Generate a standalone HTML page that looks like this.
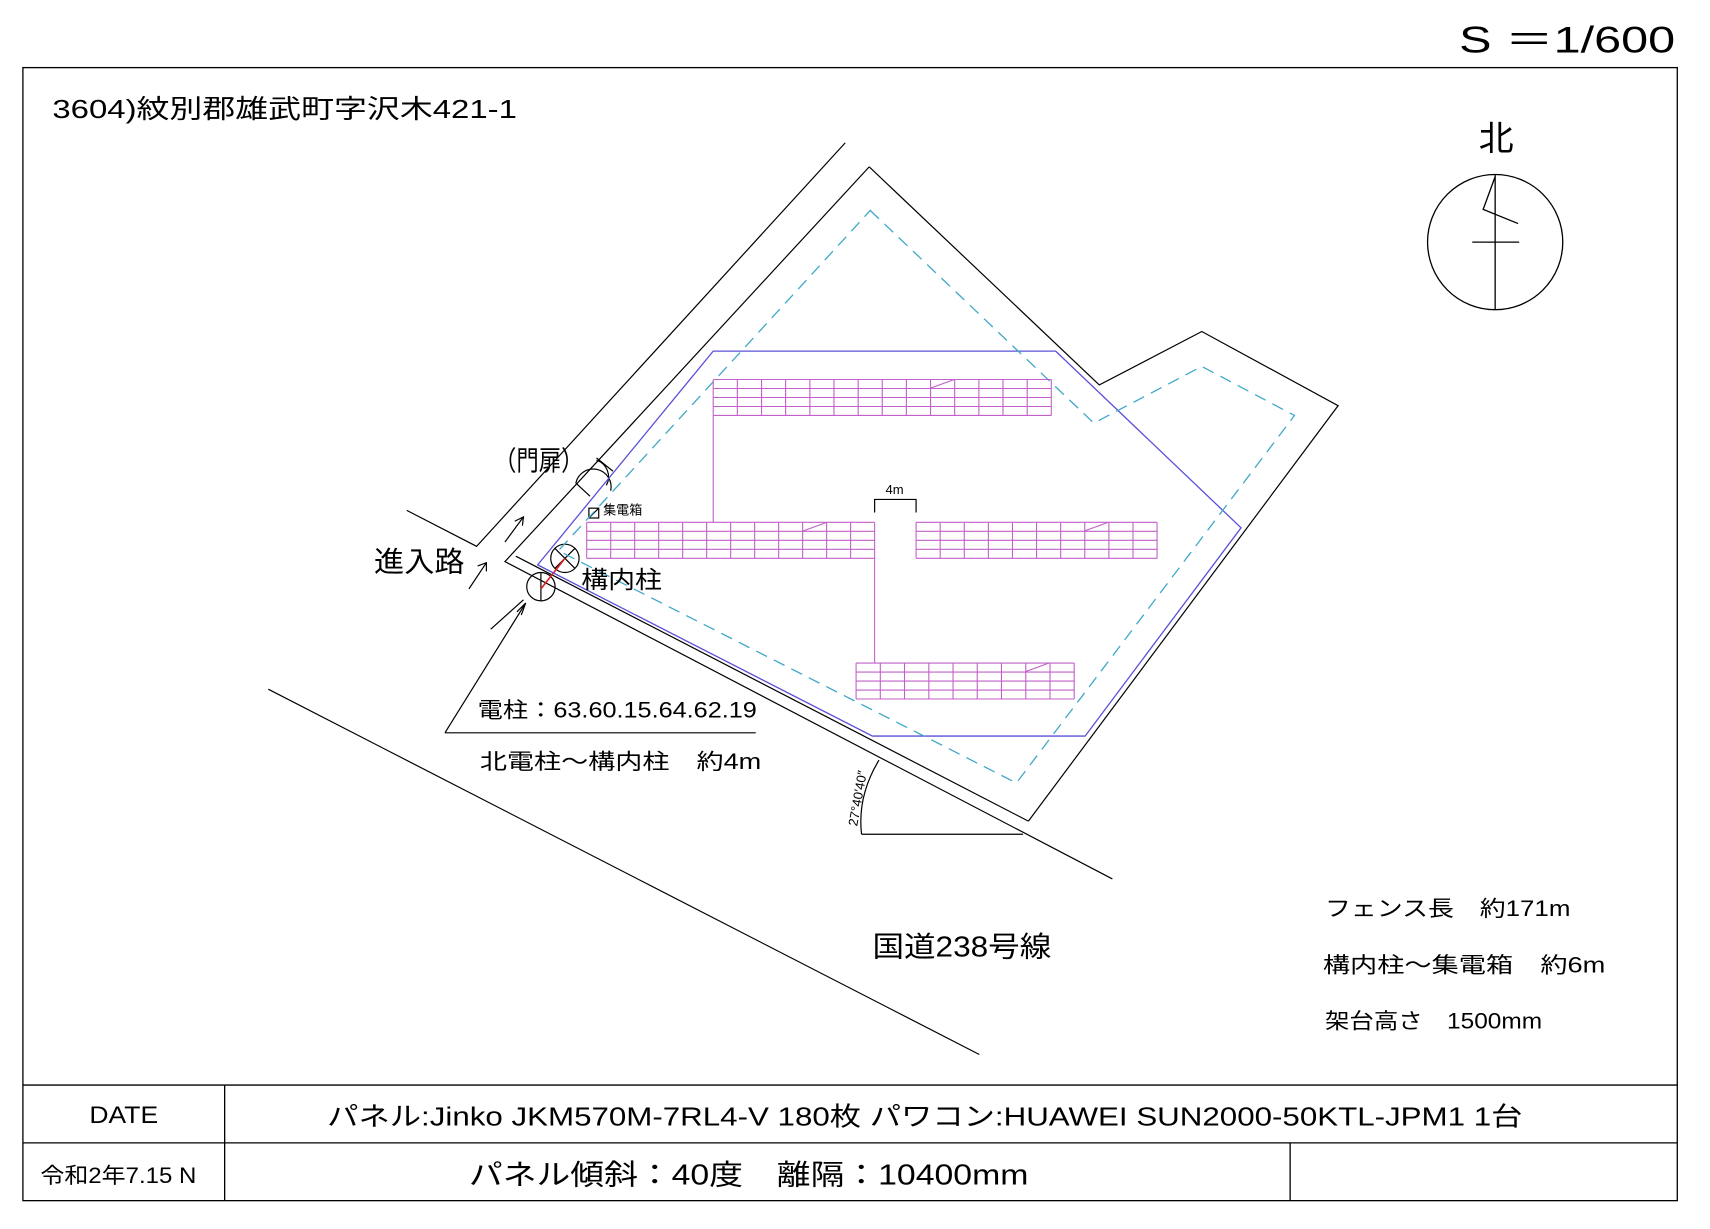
<!DOCTYPE html>
<html><head><meta charset="utf-8"><style>
html,body{margin:0;padding:0;background:#fff}
svg{display:block}
text{font-family:"Liberation Sans","Noto Sans CJK JP",sans-serif;fill:#000}
</style></head><body>
<svg width="1710" height="1229" viewBox="0 0 1568 1127" preserveAspectRatio="none" xmlns="http://www.w3.org/2000/svg">
<rect width="1568" height="1127" fill="#fff"/>
<text x="1338" y="48" font-size="34" textLength="198" lengthAdjust="spacingAndGlyphs">S ＝1/600</text>
<g stroke="#000" stroke-width="1.2" fill="none">
<rect x="21" y="62" width="1517" height="1039"/>
<line x1="21" y1="995" x2="1538" y2="995"/>
<line x1="21" y1="1048" x2="1538" y2="1048"/>
<line x1="206" y1="995" x2="206" y2="1101"/>
<line x1="1183" y1="1048" x2="1183" y2="1101"/>
</g>
<text x="48" y="108" font-size="24" textLength="426" lengthAdjust="spacingAndGlyphs">3604)紋別郡雄武町字沢木421-1</text>
<text x="1356" y="138" font-size="32">北</text>
<g stroke="#000" stroke-width="1.2" fill="none">
<circle cx="1371" cy="222" r="62"/>
<line x1="1371" y1="160" x2="1371" y2="284"/>
<line x1="1350" y1="222" x2="1393" y2="222"/>
<polyline points="1371,162 1360,192 1392,205"/>
</g>
<g stroke="#000" stroke-width="1.1" fill="none">
<polyline points="373,468 437,501 775,131"/>
<polyline points="797,153 1008,353 1102,304 1227,372 943,753"/>
<polyline points="797,153 463,515 1020,806"/>
<polyline points="473,510 943,753"/>
<line x1="246" y1="632" x2="898" y2="967"/>
<line x1="408" y1="672" x2="693" y2="672"/>
<line x1="408" y1="672" x2="482" y2="553"/>
<polyline points="474,561 482,553 478,564"/>
<line x1="450" y1="577" x2="480" y2="550"/>
<line x1="430" y1="540" x2="446" y2="516"/>
<polyline points="438,519 446,516 446,524"/>
<line x1="463" y1="497" x2="480" y2="474"/>
<polyline points="472,478 480,474 479,482"/>
<path d="M528,443 A16,16 0 0 1 560,450"/>
<path d="M547,422 A16,16 0 0 1 556,445"/>
<line x1="528" y1="443" x2="541" y2="455"/>
<line x1="547" y1="420" x2="562" y2="432"/>
<circle cx="518" cy="512" r="13"/>
<line x1="509" y1="503" x2="527" y2="521"/>
<line x1="527" y1="503" x2="509" y2="521"/>
<circle cx="496" cy="538" r="13"/>
<line x1="496" y1="525" x2="496" y2="551"/>
<rect x="540" y="466" width="9" height="9"/>
<line x1="540" y1="475" x2="549" y2="466"/>
<line x1="790" y1="765" x2="938" y2="765"/>
<path d="M806,697 Q786,730 790,765"/>
<polyline points="802,470 802,458 840,458 840,470"/>
</g>
<line x1="518" y1="512" x2="496" y2="540" stroke="#e02020" stroke-width="1.5"/>
<polygon points="654,322 968,322 1138,484 995,675 800,675 493,518" fill="none" stroke="#5a50d8" stroke-width="1.2"/>
<polygon points="798,193 1003,388 1102,336 1187,381 932,718 512,505" fill="none" stroke="#40a8c8" stroke-width="1.2" stroke-dasharray="11,7"/>
<g stroke="#c060c8" stroke-width="1" fill="none">
<line x1="654" y1="381" x2="654" y2="479"/>
<line x1="802" y1="512" x2="802" y2="608"/>
<path d="M654,348H964M654,356.25H964M654,364.5H964M654,372.75H964M654,381H964"/>
<path d="M654,348V381M676.1,348V381M698.3,348V381M720.4,348V381M742.6,348V381M764.7,348V381M786.9,348V381M809,348V381M831.1,348V381M853.3,348V381M875.4,348V381M897.6,348V381M919.7,348V381M941.9,348V381M964,348V381"/>
<line x1="853" y1="356" x2="875" y2="348"/>
<path d="M538,479H802M538,487.25H802M538,495.5H802M538,503.75H802M538,512H802"/>
<path d="M538,479V512M560,479V512M582,479V512M604,479V512M626,479V512M648,479V512M670,479V512M692,479V512M714,479V512M736,479V512M758,479V512M780,479V512M802,479V512"/>
<line x1="736" y1="487" x2="758" y2="479"/>
<path d="M840,479H1061M840,487.25H1061M840,495.5H1061M840,503.75H1061M840,512H1061"/>
<path d="M840,479V512M862.1,479V512M884.2,479V512M906.3,479V512M928.4,479V512M950.5,479V512M972.6,479V512M994.7,479V512M1016.8,479V512M1038.9,479V512M1061,479V512"/>
<line x1="994" y1="487" x2="1016" y2="479"/>
<path d="M785,608H985M785,616.25H985M785,624.5H985M785,632.75H985M785,641H985"/>
<path d="M785,608V641M807.2,608V641M829.4,608V641M851.7,608V641M873.9,608V641M896.1,608V641M918.3,608V641M940.6,608V641M962.8,608V641M985,608V641"/>
<line x1="940" y1="616" x2="962" y2="608"/>
</g>
<text x="812" y="453" font-size="12">4m</text>
<text x="553" y="472" font-size="12">集電箱</text>
<text x="453" y="431" font-size="25" textLength="82" lengthAdjust="spacingAndGlyphs">（門扉）</text>
<text x="343" y="524" font-size="26" textLength="83" lengthAdjust="spacingAndGlyphs">進入路</text>
<text x="533" y="539" font-size="22" textLength="74" lengthAdjust="spacingAndGlyphs">構内柱</text>
<text x="438" y="658" font-size="20" textLength="256" lengthAdjust="spacingAndGlyphs">電柱：63.60.15.64.62.19</text>
<text x="440" y="705" font-size="20" textLength="258" lengthAdjust="spacingAndGlyphs">北電柱～構内柱　約4m</text>
<text x="0" y="0" font-size="12" transform="translate(786,758) rotate(-80)">27°40′40″</text>
<text x="800" y="877" font-size="26" textLength="164" lengthAdjust="spacingAndGlyphs">国道238号線</text>
<text x="1215" y="840" font-size="20" textLength="225" lengthAdjust="spacingAndGlyphs">フェンス長　約171m</text>
<text x="1213" y="892" font-size="20" textLength="259" lengthAdjust="spacingAndGlyphs">構内柱～集電箱　約6m</text>
<text x="1215" y="943" font-size="20" textLength="199" lengthAdjust="spacingAndGlyphs">架台高さ　1500mm</text>
<text x="82" y="1030" font-size="22" textLength="63" lengthAdjust="spacingAndGlyphs">DATE</text>
<text x="300" y="1032" font-size="24" textLength="1096" lengthAdjust="spacingAndGlyphs">パネル:Jinko JKM570M-7RL4-V 180枚 パワコン:HUAWEI SUN2000-50KTL-JPM1 1台</text>
<text x="37" y="1085" font-size="20" textLength="143" lengthAdjust="spacingAndGlyphs">令和2年7.15 N</text>
<text x="430" y="1086" font-size="26" textLength="513" lengthAdjust="spacingAndGlyphs">パネル傾斜：40度　離隔：10400mm</text>
</svg>
</body></html>
